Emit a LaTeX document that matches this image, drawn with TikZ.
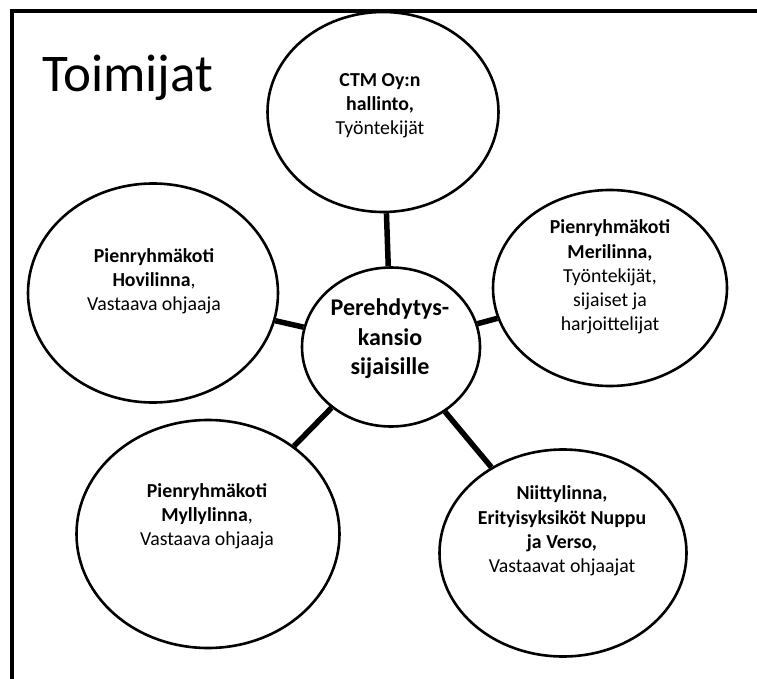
\documentclass[tikz,border=0pt]{standalone}
\usepackage{fontspec}
\setmainfont{Carlito}
\usetikzlibrary{shapes.geometric}
\begin{document}
\begin{tikzpicture}[x=1pt,y=-1pt,
  oval/.style={draw, ellipse, line width=2.6pt, inner sep=0pt},
  link/.style={line width=5.5pt},
  lbl/.style={align=center, font=\fontsize{19.8}{24.2}\selectfont, inner sep=0pt},
  hub/.style={align=center, font=\fontsize{24}{29.5}\selectfont\bfseries, inner sep=0pt}
]
\useasboundingbox (0,0) rectangle (757,679);
\fill[white] (0,0) rectangle (757,679);
\draw[line width=3.2pt] (12,680) -- (12,11) -- (758,11);

\node[anchor=base west, inner sep=0pt, font=\fontsize{53}{60}\selectfont] (title) at (42,92) {Toimijat};

\node[oval, minimum width=231pt, minimum height=200pt] (ctm) at (383,112) {};
\node[oval, minimum width=250pt, minimum height=219pt] (hovi) at (153,293) {};
\node[oval, minimum width=234pt, minimum height=196pt] (meri) at (610,288) {};
\node[oval, minimum width=263pt, minimum height=228pt] (mylly) at (208,534) {};
\node[oval, minimum width=247pt, minimum height=207pt] (niitty) at (563,553) {};
\node[oval, minimum width=178pt, minimum height=159pt] (hubo) at (391,347) {};

\node[lbl] (ctmt) at (380,106) {\textbf{CTM Oy:n}\\\textbf{hallinto,}\\Työntekijät};
\node[lbl] (hovit) at (154,281) {\textbf{Pienryhmäkoti}\\\textbf{Hovilinna},\\Vastaava ohjaaja};
\node[lbl] (merit) at (610,277) {\textbf{Pienryhmäkoti}\\\textbf{Merilinna,}\\Työntekijät,\\sijaiset ja\\harjoittelijat};
\node[lbl] (myllyt) at (207,516) {\textbf{Pienryhmäkoti}\\\textbf{Myllylinna},\\Vastaava ohjaaja};
\node[lbl] (niittyt) at (562,531) {\textbf{Niittylinna,}\\\textbf{Erityisyksiköt Nuppu}\\\textbf{ja Verso,}\\Vastaavat ohjaajat};
\node[hub] (hubt) at (390,339) {Perehdytys-\\kansio\\sijaisille};

\draw[link] (hubo) -- (ctm);
\draw[link] (hubo) -- (hovi);
\draw[link] (hubo) -- (meri);
\draw[link] (hubo) -- (mylly);
\draw[link] (hubo) -- (niitty);
\end{tikzpicture}
\end{document}
